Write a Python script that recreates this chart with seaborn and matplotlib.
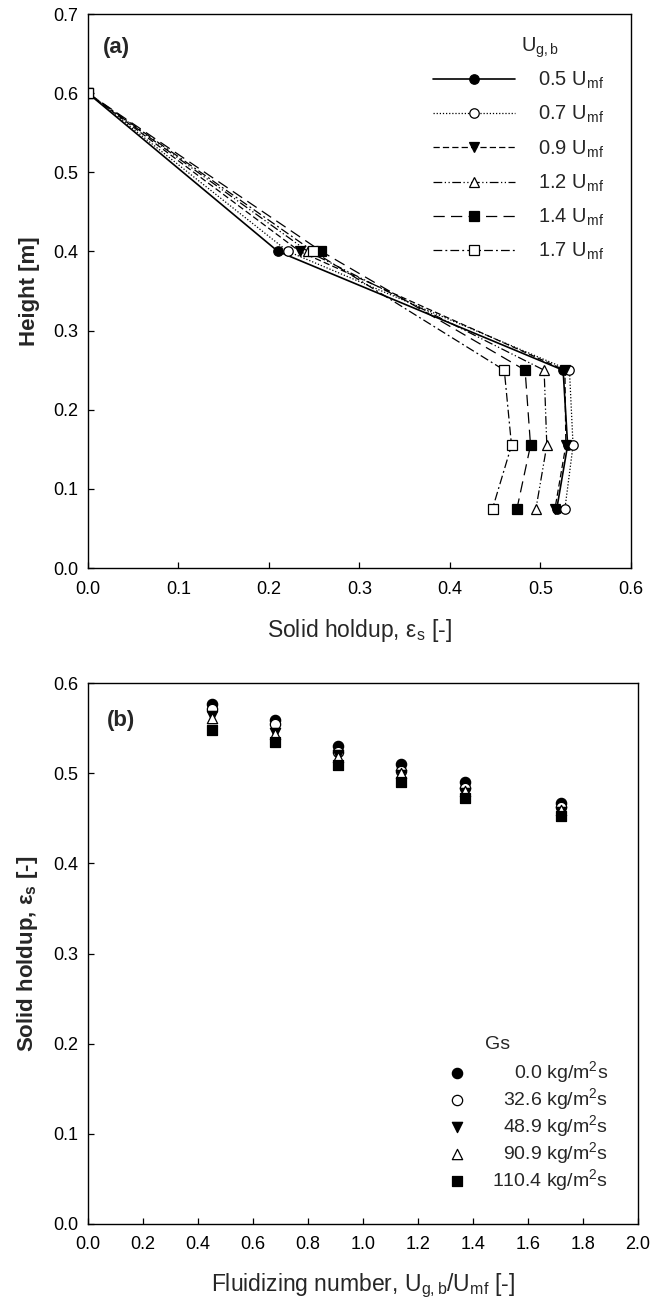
import numpy as np
import pandas as pd
import matplotlib
matplotlib.use('Agg')
import matplotlib.pyplot as plt
from matplotlib.ticker import FormatStrFormatter
import seaborn as sns

sns.set_style('ticks')
plt.rcParams['font.family'] = ['Liberation Sans', 'DejaVu Sans']
plt.rcParams['mathtext.fontset'] = 'custom'
plt.rcParams['mathtext.rm'] = 'Liberation Sans'
plt.rcParams['mathtext.it'] = 'Liberation Sans:italic'
plt.rcParams['mathtext.bf'] = 'Liberation Sans:bold'

# ---- panel (a): axial holdup profiles ----
heights = [0.6, 0.4, 0.25, 0.155, 0.075]
ugb_labels = ['0.5', '0.7', '0.9', '1.2', '1.4', '1.7']
holdup_05 = [0.0, 0.210, 0.525, 0.530, 0.518]
holdup_07 = [0.0, 0.221, 0.532, 0.536, 0.527]
holdup_09 = [0.0, 0.234, 0.527, 0.528, 0.516]
holdup_12 = [0.0, 0.243, 0.504, 0.507, 0.495]
holdup_14 = [0.0, 0.258, 0.483, 0.489, 0.474]
holdup_17 = [0.0, 0.249, 0.460, 0.468, 0.447]
profiles = [holdup_05, holdup_07, holdup_09, holdup_12, holdup_14, holdup_17]

# ---- panel (b): holdup vs fluidizing number ----
fluid_num = [0.45, 0.68, 0.91, 1.14, 1.37, 1.72]
gs_labels = ['0.0', '32.6', '48.9', '90.9', '110.4']
eps_gs00 = [0.577, 0.559, 0.530, 0.510, 0.490, 0.467]
eps_gs326 = [0.571, 0.554, 0.524, 0.502, 0.484, 0.462]
eps_gs489 = [0.563, 0.545, 0.520, 0.498, 0.478, 0.457]
eps_gs909 = [0.561, 0.543, 0.518, 0.500, 0.480, 0.459]
eps_gs1104 = [0.548, 0.535, 0.509, 0.490, 0.472, 0.452]
gs_series = [eps_gs00, eps_gs326, eps_gs489, eps_gs909, eps_gs1104]

line_styles = ['-', (0, (1, 1.5)), (0, (5, 2.5)), (0, (7, 2, 1, 2, 1, 2)),
               (0, (9, 5)), (0, (7, 2.5, 1.5, 2.5))]
a_markers = ['o', 'o', 'v', '^', 's', 's']
a_fill = ['black', 'white', 'black', 'white', 'black', 'white']
b_markers = ['o', 'o', 'v', '^', 's']
b_fill = ['black', 'white', 'black', 'white', 'black']

fig = plt.figure(figsize=(6.59, 13.01), dpi=100)
ax1 = fig.add_axes([0.1335, 0.5634, 0.824, 0.4258])
ax2 = fig.add_axes([0.1335, 0.0592, 0.8345, 0.4158])

for vals, lab, ls, mk, fc in zip(profiles, ugb_labels, line_styles, a_markers, a_fill):
    df = pd.DataFrame({'holdup': vals, 'height': heights})
    sns.lineplot(data=df, x='holdup', y='height', sort=False, estimator=None,
                 ax=ax1, color='black', linestyle=ls, lw=1.2 if ls == '-' else 0.9,
                 marker=mk, markersize=6.8, markerfacecolor=fc,
                 markeredgecolor='black', markeredgewidth=0.9,
                 label=lab + r' U$_{\mathrm{mf}}$')

for vals, lab, mk, fc in zip(gs_series, gs_labels, b_markers, b_fill):
    df = pd.DataFrame({'fn': fluid_num, 'eps': vals})
    sns.scatterplot(data=df, x='fn', y='eps', ax=ax2, marker=mk, s=55,
                    facecolor=fc, edgecolor='black', linewidth=0.9,
                    label=lab + r' kg/m$^{2}$s')

ax1.set_xlim(0, 0.6)
ax1.set_ylim(0, 0.7)
ax1.set_xticks(np.arange(0, 0.61, 0.1))
ax1.set_yticks(np.arange(0, 0.71, 0.1))
ax1.set_xlabel(r'Solid holdup, ε$_{\mathrm{s}}$ [-]', fontsize=16.5, va='top')
ax1.set_ylabel('Height [m]', fontsize=16, fontweight='bold')
ax1.xaxis.set_label_coords(0.5, -0.088)
ax1.yaxis.set_label_coords(-0.088, 0.5)

ax2.set_xlim(0, 2.0)
ax2.set_ylim(0, 0.6)
ax2.set_xticks(np.arange(0, 2.01, 0.2))
ax2.set_yticks(np.arange(0, 0.61, 0.1))
ax2.set_xlabel(r'Fluidizing number, U$_{\mathrm{g,b}}$/U$_{\mathrm{mf}}$ [-]',
               fontsize=16.5, va='top')
ax2.set_ylabel(r'Solid holdup, ε$_{\mathbf{s}}$ [-]', fontsize=16,
               fontweight='bold')
ax2.xaxis.set_label_coords(0.5, -0.088)
ax2.yaxis.set_label_coords(-0.088, 0.5)

for ax in (ax1, ax2):
    ax.xaxis.set_major_formatter(FormatStrFormatter('%.1f'))
    ax.yaxis.set_major_formatter(FormatStrFormatter('%.1f'))
    ax.tick_params(direction='in', length=4, width=0.9, labelsize=13,
                   colors='black')
    ax.tick_params(axis='x', pad=9)
    ax.tick_params(axis='y', pad=7)
    for sp in ax.spines.values():
        sp.set_color('black')
        sp.set_linewidth(1.0)

ax1.text(0.028, 0.940, '(a)', transform=ax1.transAxes, fontsize=16,
         fontweight='bold', va='center')
ax2.text(0.035, 0.930, '(b)', transform=ax2.transAxes, fontsize=16,
         fontweight='bold', va='center')

leg1 = ax1.legend(loc='upper left', bbox_to_anchor=(0.635, 0.899), frameon=False,
                  fontsize=14.5, handlelength=4.07, handletextpad=1.14,
                  labelspacing=0.64, borderpad=0, borderaxespad=0)
ax1.text(0.797, 0.940, r'U$_{\mathrm{g,b}}$', transform=ax1.transAxes,
         fontsize=14.5, va='center')

leg2 = ax2.legend(loc='lower right', bbox_to_anchor=(0.9455, 0.058), frameon=False,
                  fontsize=14, handlelength=1.0, handletextpad=1.3,
                  labelspacing=0.05, borderpad=0, borderaxespad=0)
fig.canvas.draw()
texts = leg2.get_texts()
widths = [t.get_window_extent().width for t in texts]
for t, w in zip(texts, widths):
    t.set_position((max(widths) - w, 0))
ax2.text(0.722, 0.331, 'Gs', transform=ax2.transAxes, fontsize=14, va='center')

fig.savefig('out.png', dpi=100, facecolor='white')
